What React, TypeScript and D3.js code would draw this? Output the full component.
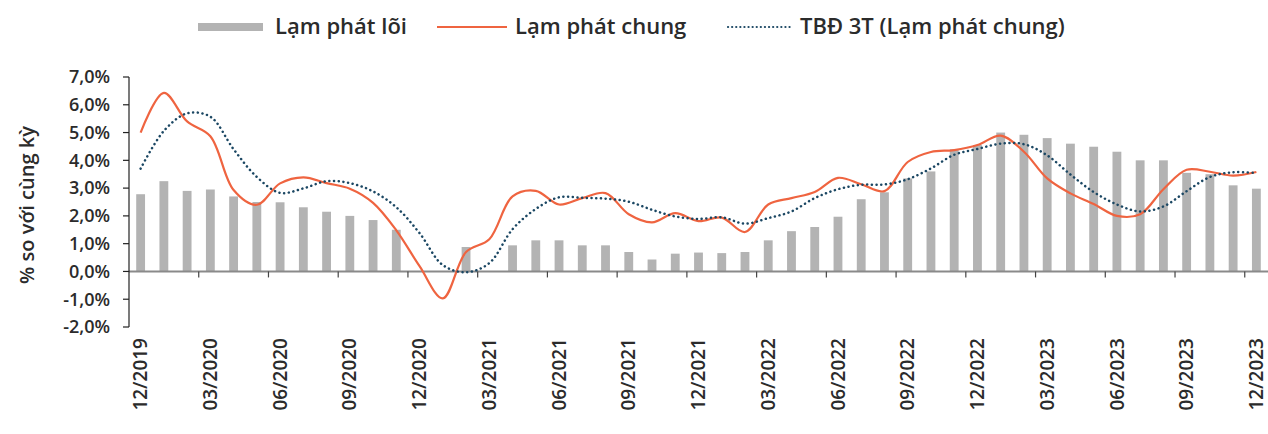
import React from "react";
import * as d3 from "d3";

const categories = [
  "12/2019",
  "01/2020","02/2020","03/2020","04/2020","05/2020","06/2020","07/2020","08/2020","09/2020","10/2020","11/2020","12/2020",
  "01/2021","02/2021","03/2021","04/2021","05/2021","06/2021","07/2021","08/2021","09/2021","10/2021","11/2021","12/2021",
  "01/2022","02/2022","03/2022","04/2022","05/2022","06/2022","07/2022","08/2022","09/2022","10/2022","11/2022","12/2022",
  "01/2023","02/2023","03/2023","04/2023","05/2023","06/2023","07/2023","08/2023","09/2023","10/2023","11/2023","12/2023",
];

// Lạm phát lõi (core inflation), % yoy
const coreInflation: (number | null)[] = [
  2.78,
  3.25, 2.9, 2.95, 2.7, 2.5, 2.49, 2.31, 2.15, 2.0, 1.85, 1.5, null,
  null, 0.88, null, 0.94, 1.12, 1.12, 0.94, 0.94, 0.7, 0.43, 0.64, 0.68,
  0.66, 0.7, 1.12, 1.45, 1.6, 1.97, 2.6, 2.85, 3.35, 3.6, 4.4, 4.55,
  5.0, 4.92, 4.8, 4.6, 4.49, 4.31, 4.0, 4.0, 3.55, 3.5, 3.1, 2.98,
];

// Lạm phát chung (headline inflation), % yoy
const headline = [
  5.0,
  6.43, 5.4, 4.87, 2.93, 2.4, 3.17, 3.39, 3.18, 2.98, 2.47, 1.48, 0.19,
  -0.97, 0.7, 1.16, 2.7, 2.9, 2.41, 2.64, 2.82, 2.06, 1.77, 2.1, 1.81,
  1.94, 1.42, 2.41, 2.64, 2.86, 3.37, 3.14, 2.89, 3.94, 4.3, 4.37, 4.55,
  4.89, 4.31, 3.35, 2.81, 2.43, 2.0, 2.06, 2.96, 3.66, 3.59, 3.45, 3.58,
];

// TBĐ 3T (Lạm phát chung) – 3-month moving average
const movingAvg = [
  3.7,
  5.06, 5.69, 5.57, 4.4, 3.4, 2.83, 2.99, 3.25, 3.18, 2.88, 2.31, 1.38,
  0.23, -0.03, 0.3, 1.52, 2.25, 2.67, 2.65, 2.62, 2.51, 2.22, 1.98, 1.89,
  1.95, 1.72, 1.92, 2.16, 2.64, 2.96, 3.12, 3.13, 3.32, 3.71, 4.2, 4.41,
  4.6, 4.58, 4.18, 3.49, 2.86, 2.41, 2.16, 2.34, 2.89, 3.4, 3.57, 3.54,
];

const yTicks = [-2, -1, 0, 1, 2, 3, 4, 5, 6, 7];

const W = 1268;
const H = 434;
const FONT = "'Open Sans', 'Noto Sans', sans-serif";
const TEXT = "#2b2b2b";
const GREY = "#b3b3b3";
const RED = "#ef6440";
const DOT = "#1b4763";

export default function App() {
  const x = d3
    .scaleBand<string>()
    .domain(categories)
    .range([129, 1268])
    .paddingInner(0.62)
    .paddingOuter(0.31);
  const y = d3.scaleLinear().domain([-2, 7]).range([327, 77]);
  const cx = (c: string) => (x(c) as number) + x.bandwidth() / 2;
  const step = x.step();

  const lineGen = d3
    .line<number>()
    .x((_, i) => cx(categories[i]))
    .y((d) => y(d))
    .curve(d3.curveCatmullRom.alpha(0.5));

  const fmt = (v: number) => v.toFixed(1).replace(".", ",") + "%";

  return (
    <svg
      width={W}
      height={H}
      style={{ position: "absolute", left: 0, top: 0, background: "#fff" }}
      fontFamily={FONT}
    >
      {/* Legend */}
      <g fontSize={22} fontWeight={600} fill={TEXT}>
        <rect x={198} y={23} width={65} height={8} fill={GREY} />
        <text x={275} y={34}>Lạm phát lõi</text>
        <line x1={437} y1={27} x2={507} y2={27} stroke={RED} strokeWidth={2.2} />
        <text x={515} y={34}>Lạm phát chung</text>
        <line
          x1={728}
          y1={27}
          x2={793}
          y2={27}
          stroke={DOT}
          strokeWidth={2.2}
          strokeDasharray="0.1 4"
          strokeLinecap="round"
        />
        <text x={800} y={34}>TBĐ 3T (Lạm phát chung)</text>
      </g>

      {/* Y axis title */}
      <text
        transform={`translate(27, 205) rotate(-90)`}
        textAnchor="middle"
        dy="0.35em"
        fontSize={20}
        fontWeight={600}
        fill={TEXT}
      >
        % so với cùng kỳ
      </text>

      {/* Bars */}
      {categories.map((c, i) => {
        const v = coreInflation[i];
        if (v == null) return null;
        return (
          <rect
            key={c}
            x={x(c)}
            y={y(Math.max(0, v))}
            width={x.bandwidth()}
            height={Math.abs(y(v) - y(0))}
            fill={GREY}
          />
        );
      })}

      {/* X axis */}
      <line x1={129} x2={1268} y1={y(0)} y2={y(0)} stroke="#8a8a8a" strokeWidth={2} />
      {categories.map((c, i) =>
        i % 3 === 0 && i > 0 ? (
          <line
            key={"t" + c}
            x1={129 + i * step}
            x2={129 + i * step}
            y1={y(0)}
            y2={y(0) + 6}
            stroke="#444"
            strokeWidth={1.2}
          />
        ) : null
      )}

      {/* Y axis */}
      <line x1={129} x2={129} y1={y(7)} y2={y(-2)} stroke="#222" strokeWidth={1.2} />
      {yTicks.map((t) => (
        <g key={t}>
          <line x1={123} x2={129} y1={y(t)} y2={y(t)} stroke="#222" strokeWidth={1.2} />
          <text
            x={110}
            y={y(t)}
            dy="0.35em"
            textAnchor="end"
            fontSize={18}
            fontWeight={600}
            fill={TEXT}
          >
            {fmt(t)}
          </text>
        </g>
      ))}

      {/* Lines */}
      <path d={lineGen(headline) || ""} fill="none" stroke={RED} strokeWidth={2.2} />
      <path
        d={lineGen(movingAvg) || ""}
        fill="none"
        stroke={DOT}
        strokeWidth={2.5}
        strokeDasharray="0.1 4.6"
        strokeLinecap="round"
      />

      {/* X labels */}
      {categories.map((c, i) =>
        i % 3 === 0 ? (
          <text
            key={"l" + c}
            transform={`translate(${cx(c)}, 338) rotate(-90)`}
            textAnchor="end"
            dy="0.35em"
            fontSize={19}
            fontWeight={600}
            fill={TEXT}
          >
            {c}
          </text>
        ) : null
      )}
    </svg>
  );
}
